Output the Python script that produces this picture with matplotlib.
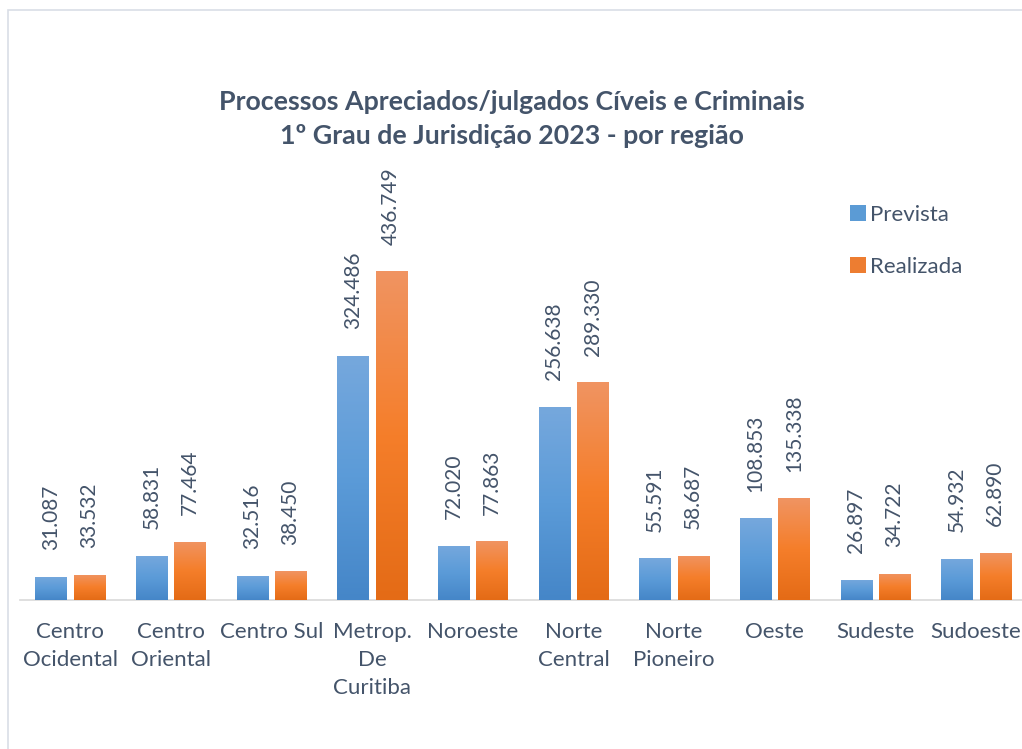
import matplotlib
matplotlib.use("Agg")
import matplotlib.pyplot as plt
import numpy as np
from matplotlib.patches import Rectangle, Patch
from matplotlib.colors import LinearSegmentedColormap

categories = ["Centro\nOcidental", "Centro\nOriental", "Centro Sul", "Metrop.\nDe\nCuritiba",
              "Noroeste", "Norte\nCentral", "Norte\nPioneiro", "Oeste", "Sudeste", "Sudoeste"]
prevista = [31087, 58831, 32516, 324486, 72020, 256638, 55591, 108853, 26897, 54932]
realizada = [33532, 77464, 38450, 436749, 77863, 289330, 58687, 135338, 34722, 62890]
series_names = ["Prevista", "Realizada"]
title = "Processos Apreciados/julgados Cíveis e Criminais\n1º Grau de Jurisdição 2023 - por região"

TXT = "#44546a"
FONT = ["Lato", "DejaVu Sans"]

W, H = 1022, 749
fig = plt.figure(figsize=(W / 100, H / 100), dpi=100)

# outer chart border
fig.patches.append(Rectangle((8 / W, -0.1), 1.1, (H - 10) / H + 0.1, transform=fig.transFigure,
                             fill=False, edgecolor="#d9dee6", linewidth=1.2))

ax_left, ax_w = 19.7 / W, 1006.7 / W
ax_bottom = (H - 600) / H
ax_top_px = 150
ax = fig.add_axes([ax_left, ax_bottom, ax_w, (600 - ax_top_px) / H])

ymax = (600 - ax_top_px) / 0.7533 * 1000

x = np.arange(len(categories))
bw = 0.31
off = 0.19

cmap_b = LinearSegmentedColormap.from_list("b", ["#4586c8", "#5b9bd8", "#76a8dd"])
cmap_o = LinearSegmentedColormap.from_list("o", ["#e46b16", "#f57e2a", "#f09462"])

bars_p = ax.bar(x - off, prevista, bw, color="#5b9bd5", zorder=2)
bars_r = ax.bar(x + off, realizada, bw, color="#ed7d31", zorder=2)

grad = np.linspace(0, 1, 256).reshape(-1, 1)
for bars, cm in ((bars_p, cmap_b), (bars_r, cmap_o)):
    for b in bars:
        x0, y0 = b.get_x(), b.get_y()
        w, h = b.get_width(), b.get_height()
        im = ax.imshow(grad, cmap=cm, origin="lower", aspect="auto",
                       extent=(x0, x0 + w, y0, y0 + h), zorder=3)
        im.set_clip_path(b)

ax.set_xlim(-0.5, len(categories) - 0.5)
ax.set_ylim(0, ymax)

def fmt(v):
    return f"{v:,}".replace(",", ".")

for bars, vals in ((bars_p, prevista), (bars_r, realizada)):
    for b, v in zip(bars, vals):
        ax.annotate(fmt(v), (b.get_x() + b.get_width() / 2, v), xytext=(0, 19),
                    textcoords="offset points", rotation=90, ha="center", va="bottom",
                    fontsize=15, color=TXT, family=FONT)

for s in ["top", "right", "left"]:
    ax.spines[s].set_visible(False)
ax.spines["bottom"].set_color("#d9d9d9")
ax.spines["bottom"].set_linewidth(1.2)
ax.set_yticks([])
ax.set_xticks(x)
ax.set_xticklabels(categories, fontsize=16, color=TXT, family=FONT, linespacing=1.48)
ax.tick_params(axis="x", length=0, pad=16)
ax.patch.set_alpha(0)

fig.text(512 / W, 1 - 119 / H, title, ha="center", va="center", fontsize=19.3,
         fontweight="bold", color=TXT, family=FONT, linespacing=1.45)

# legend
handles = [Patch(facecolor="#5b9bd5", edgecolor="none"), Patch(facecolor="#ed7d31", edgecolor="none")]
leg = fig.legend(handles, series_names, loc="upper left", bbox_to_anchor=(830 / W, 1 - 185 / H),
                 frameon=False, handlelength=0.7, handleheight=0.7,
                 handletextpad=0.22, labelspacing=1.42, prop={"family": FONT, "size": 16})
for t in leg.get_texts():
    t.set_color(TXT)

fig.savefig("out.png", dpi=100)
